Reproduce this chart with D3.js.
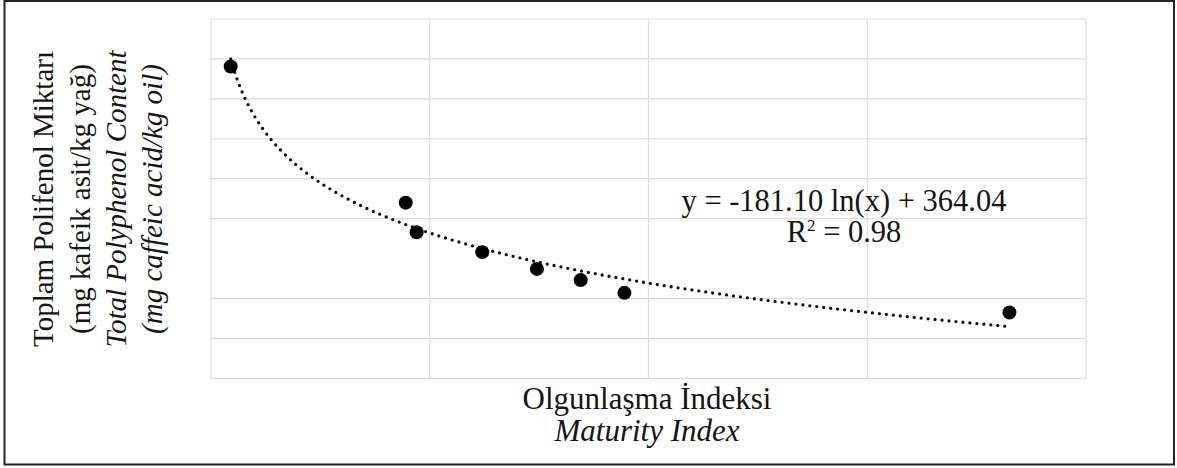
<!DOCTYPE html>
<html>
<head>
<meta charset="utf-8">
<script src="https://cdn.jsdelivr.net/npm/d3@7"></script>
<style>
  html, body { margin: 0; padding: 0; background: #fff; }
  svg { display: block; }
  text { font-family: "Liberation Serif", "Times New Roman", serif; fill: #151515; }
</style>
</head>
<body>
<svg id="chart" width="1177" height="468"></svg>
<script>
// Maturity index of the olive samples and total polyphenol content (mg caffeic acid / kg oil)
const maturityIndex = [0.09, 0.89, 0.94, 1.24, 1.49, 1.69, 1.89, 3.65];
const polyphenol    = [781, 440, 366, 316, 274, 246, 214, 165];

// Logarithmic trendline: y = a ln(x) + b
const trendSlope = -181.10;
const trendIntercept = 364.04;
const rSquared = 0.98;

// Grid positions
const xGridValues = [0, 1, 2, 3, 4];
const yGridValues = [0, 100, 200, 400, 500, 600, 700, 800, 900];

const xDomain = [0, 4];
const yDomain = [0, 900];

const yTitleLines = [
  { text: "Toplam Polifenol Miktarı", italic: false },
  { text: "(mg kafeik asit/kg yağ)", italic: false },
  { text: "Total Polyphenol Content", italic: true },
  { text: "(mg caffeic acid/kg oil)", italic: true }
];
const xTitleLines = [
  { text: "Olgunlaşma İndeksi", italic: false },
  { text: "Maturity Index", italic: true }
];

const svg = d3.select("#chart");
const W = 1177, H = 468;
const plot = { left: 211, right: 1086, top: 19, bottom: 378.3 };

svg.append("rect").attr("width", W).attr("height", H).attr("fill", "#fff");

// outer frame
svg.append("rect")
  .attr("x", 4.5).attr("y", 1)
  .attr("width", 1169.5).attr("height", 463.5)
  .attr("fill", "none").attr("stroke", "#222").attr("stroke-width", 2);

const x = d3.scaleLinear().domain(xDomain).range([plot.left, plot.right]);
const y = d3.scaleLinear().domain(yDomain).range([plot.bottom, plot.top]);

// gridlines
const grid = svg.append("g").attr("stroke", "#dcdcdc").attr("stroke-width", 1.2);
grid.selectAll("line.v").data(xGridValues).join("line")
  .attr("class", "v")
  .attr("x1", d => x(d)).attr("x2", d => x(d))
  .attr("y1", plot.top).attr("y2", plot.bottom);
grid.selectAll("line.h").data(yGridValues).join("line")
  .attr("class", "h")
  .attr("x1", plot.left).attr("x2", plot.right)
  .attr("y1", d => y(d)).attr("y2", d => y(d));

// trendline sampled from the fitted equation
const xMin = d3.min(maturityIndex), xMax = d3.max(maturityIndex);
const trendPts = d3.range(0, 301).map(i => {
  const xv = xMin + (xMax - xMin) * i / 300;
  return [xv, trendSlope * Math.log(xv) + trendIntercept];
});
svg.append("path")
  .datum(trendPts)
  .attr("fill", "none")
  .attr("stroke", "#111")
  .attr("stroke-width", 3.3)
  .attr("stroke-linecap", "round")
  .attr("stroke-dasharray", "0 7")
  .attr("d", d3.line().x(d => x(d[0])).y(d => y(d[1])));

// data points
svg.append("g").selectAll("circle")
  .data(maturityIndex.map((m, i) => [m, polyphenol[i]]))
  .join("circle")
  .attr("cx", d => x(d[0]))
  .attr("cy", d => y(d[1]))
  .attr("r", 7)
  .attr("fill", "#000");

// equation label
const eq = svg.append("text")
  .attr("x", 844).attr("y", 211)
  .attr("text-anchor", "middle")
  .attr("font-size", 30.5);
eq.text(`y = ${trendSlope.toFixed(2)} ln(x) + ${trendIntercept.toFixed(2)}`);

const r2 = svg.append("text")
  .attr("x", 844).attr("y", 242)
  .attr("text-anchor", "middle")
  .attr("font-size", 30.5);
r2.append("tspan").text("R");
r2.append("tspan").attr("dy", -11).attr("font-size", 17).text("2");
r2.append("tspan").attr("dy", 11).text(` = ${rSquared.toFixed(2)}`);

// x axis title
const xBase = [409, 441];
svg.selectAll("text.xt").data(xTitleLines).join("text")
  .attr("class", "xt")
  .attr("x", 647).attr("y", (d, i) => xBase[i])
  .attr("text-anchor", "middle")
  .attr("font-size", 31)
  .attr("font-style", d => d.italic ? "italic" : "normal")
  .text(d => d.text);

// y axis title (rotated)
const yBase = [53, 90, 126, 162];
svg.selectAll("text.yt").data(yTitleLines).join("text")
  .attr("class", "yt")
  .attr("transform", (d, i) => `translate(${yBase[i]},199) rotate(-90)`)
  .attr("text-anchor", "middle")
  .attr("font-size", 29)
  .attr("font-style", d => d.italic ? "italic" : "normal")
  .text(d => d.text);
</script>
</body>
</html>
